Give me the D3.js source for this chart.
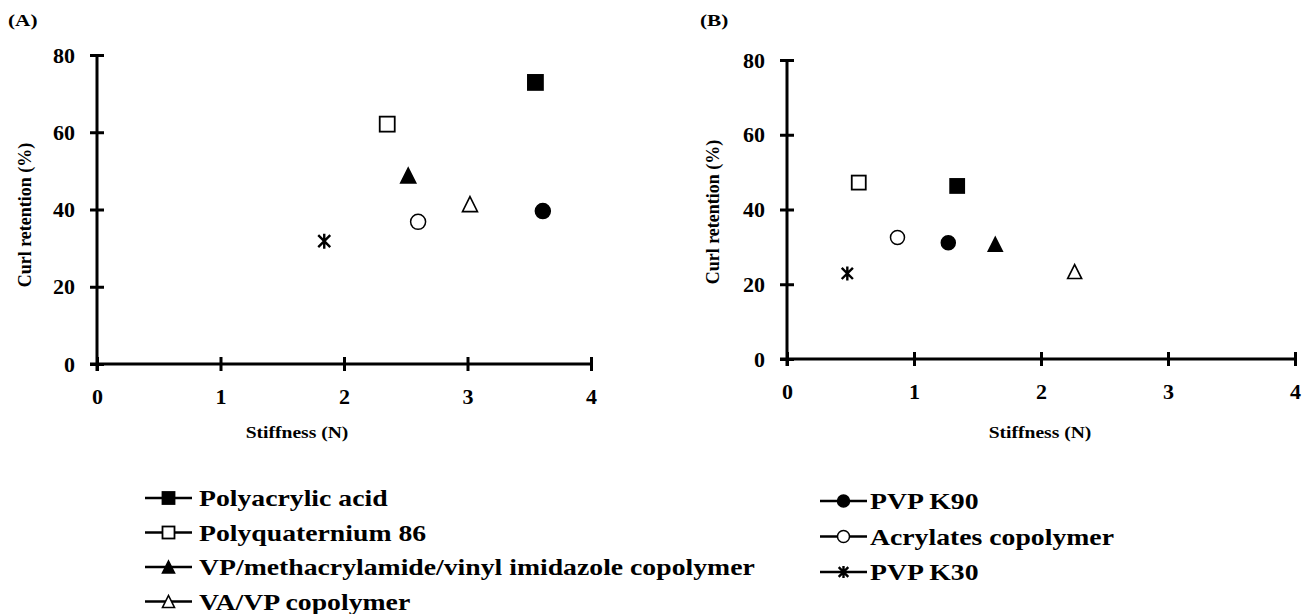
<!DOCTYPE html>
<html>
<head>
<meta charset="utf-8">
<script src="https://cdn.jsdelivr.net/npm/d3@7/dist/d3.min.js"></script>
<style>
  body { margin: 0; background: #fff; }
  svg text { font-family: "Liberation Serif", "Times New Roman", serif !important; font-weight: bold; fill: #000; }
</style>
</head>
<body>
<svg width="1306" height="614"></svg>
<script>
// Series (same order in both panels)
const seriesNames = ["Polyacrylic acid", "Polyquaternium 86", "VP/methacrylamide/vinyl imidazole copolymer",
                     "VA/VP copolymer", "PVP K90", "Acrylates copolymer", "PVP K30"];
const markerTypes = ["filledSquare", "openSquare", "filledTriangle", "openTriangle", "filledCircle", "openCircle", "star"];

// Panel A values
const stiffnessA = [3.55, 2.35, 2.52, 3.02, 3.61, 2.60, 1.84];
const curlA      = [72.9, 62.1, 48.8, 41.4, 39.6, 36.8, 31.8];

// Panel B values
const stiffnessB = [1.34, 0.565, 1.64, 2.265, 1.27, 0.87, 0.475];
const curlB      = [46.3, 47.2, 30.7, 23.4, 31.1, 32.5, 22.9];

const xTicks = [0, 1, 2, 3, 4];
const yTicks = [0, 20, 40, 60, 80];

const svg = d3.select("svg");

// the source figure is a bit wider than tall, stretch horizontal text to match
function stretch(sel, k) {
    sel.each(function() {
        const len = this.getComputedTextLength();
        d3.select(this).attr("textLength", len * k).attr("lengthAdjust", "spacingAndGlyphs");
    });
}

// draw one marker shape at the origin of g
function drawMarker(g, type, s) {
    const h = s / 2;
    const filled = type.startsWith("filled");
    const fill = filled ? "#000" : "#fff";
    if (type.endsWith("Square")) {
        g.append("rect").attr("x", -h).attr("y", -h).attr("width", s).attr("height", s)
            .attr("fill", fill).attr("stroke", "#000").attr("stroke-width", 1.8);
    } else if (type.endsWith("Triangle")) {
        g.append("path").attr("d", `M0,${-h}L${h},${h}L${-h},${h}Z`)
            .attr("fill", fill).attr("stroke", "#000").attr("stroke-width", 1.6);
    } else if (type.endsWith("Circle")) {
        g.append("circle").attr("r", h)
            .attr("fill", fill).attr("stroke", "#000").attr("stroke-width", 1.5);
    } else {
        const k = h * 0.8;
        g.append("path").attr("d", `M${-k},${-k}L${k},${k}M${k},${-k}L${-k},${k}M0,${-h}L0,${h}`)
            .attr("stroke", "#000").attr("stroke-width", 2.4).attr("fill", "none");
    }
}

function drawPanel(cfg) {
    const x = d3.scaleLinear().domain([0, 4]).range([cfg.left, cfg.right]);
    const y = d3.scaleLinear().domain([0, 80]).range([cfg.bottom, cfg.top]);

    const xAxis = svg.append("g")
        .attr("transform", `translate(0,${cfg.bottom})`)
        .call(d3.axisBottom(x).tickValues(xTicks).tickFormat(d3.format("d")).tickSize(7).tickPadding(17));
    const yAxis = svg.append("g")
        .attr("transform", `translate(${cfg.left},0)`)
        .call(d3.axisLeft(y).tickValues(yTicks).tickSize(7).tickPadding(cfg.yPad));

    [xAxis, yAxis].forEach(a => {
        a.attr("font-family", null).attr("font-size", null);
        a.select(".domain").remove();
        a.selectAll("text").style("font-size", "22px").attr("fill", "#000");
    });
    // axis lines, ticks crossing both sides
    xAxis.append("line").attr("x1", cfg.left - 7).attr("x2", cfg.right).attr("stroke", "#000").attr("stroke-width", 3);
    yAxis.append("line").attr("y1", cfg.top).attr("y2", cfg.bottom + 7).attr("stroke", "#000").attr("stroke-width", 3);
    xAxis.selectAll(".tick line").attr("y1", -7).attr("y2", 7).attr("stroke-width", 3);
    yAxis.selectAll(".tick line").attr("x1", -7).attr("x2", 7).attr("stroke-width", 3);

    // points
    cfg.xs.forEach((v, i) => {
        const g = svg.append("g").attr("transform", `translate(${x(v)},${y(cfg.ys[i])})`);
        drawMarker(g, markerTypes[i], cfg.markerSize);
    });

    // titles
    svg.append("text").attr("x", cfg.xTitleX).attr("y", cfg.xTitleY)
        .attr("text-anchor", "middle").style("font-size", "17px").text("Stiffness (N)")
        .call(stretch, 1.15);
    svg.append("text").attr("transform", `translate(${cfg.yTitleX},${cfg.yTitleY}) rotate(-90)`)
        .attr("text-anchor", "middle").attr("dy", "0.35em").style("font-size", "18px").text("Curl retention (%)");
    svg.append("text").attr("x", cfg.labelX).attr("y", 26).style("font-size", "17px").text(cfg.label)
        .call(stretch, 1.25);
}

drawPanel({ left: 97, right: 591, top: 55, bottom: 364, yPad: 15, xs: stiffnessA, ys: curlA, markerSize: 15,
            xTitleX: 297, xTitleY: 438, yTitleX: 25, yTitleY: 215, labelX: 8, label: "(A)" });
drawPanel({ left: 787, right: 1295, top: 60, bottom: 359, yPad: 15, xs: stiffnessB, ys: curlB, markerSize: 14,
            xTitleX: 1040, xTitleY: 438, yTitleX: 713, yTitleY: 212, labelX: 700, label: "(B)" });

// legend: first four in left column, last three in right column
const legendCols = [
    { idx: [0, 1, 2, 3], x: 145, y0: 498, dy: 34.5, tx: 54 },
    { idx: [4, 5, 6], x: 820, y0: 501, dy: 35.5, tx: 50 }
];
legendCols.forEach(col => {
    col.idx.forEach((si, j) => {
        const g = svg.append("g").attr("transform", `translate(${col.x},${col.y0 + j * col.dy})`);
        g.append("line").attr("x1", 0).attr("x2", 47).attr("stroke", "#000").attr("stroke-width", 2.4);
        const m = g.append("g").attr("transform", "translate(23.5,0)");
        drawMarker(m, markerTypes[si], 12);
        g.append("text").attr("x", col.tx).attr("dy", "0.35em").style("font-size", "23px").text(seriesNames[si])
            .call(stretch, 1.205);
    });
});
</script>
</body>
</html>
